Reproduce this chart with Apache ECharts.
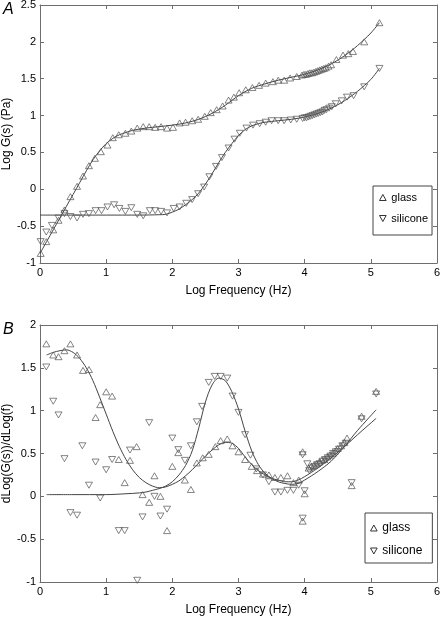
<!DOCTYPE html>
<html><head><meta charset="utf-8">
<script src="https://cdn.jsdelivr.net/npm/echarts@6/dist/echarts.min.js"></script>
<style>html,body{margin:0;padding:0;background:#fff}#c{width:442px;height:618px}</style>
</head><body><div id="c"></div>
<script>
// ---- Panel A: Log G(s) vs Log Frequency ----
const glassG = [[0.01,-0.87],[0.095,-0.71],[0.20,-0.55],[0.28,-0.42],[0.37,-0.28],[0.46,-0.10],[0.56,0.04],[0.65,0.18],[0.74,0.32],[0.83,0.42],[0.92,0.51],[1.02,0.60],[1.10,0.70],[1.19,0.74],[1.29,0.76],[1.38,0.79],[1.47,0.83],[1.56,0.85],[1.65,0.85],[1.74,0.84],[1.83,0.85],[1.92,0.83],[2.01,0.84],[2.11,0.90],[2.20,0.91],[2.30,0.93],[2.39,0.95],[2.49,0.99],[2.58,1.04],[2.67,1.08],[2.76,1.13],[2.85,1.21],[2.93,1.25],[3.01,1.31],[3.11,1.35],[3.21,1.38],[3.31,1.41],[3.41,1.44],[3.52,1.46],[3.60,1.48],[3.69,1.48],[3.78,1.51],[3.88,1.53],[3.96,1.55],[3.99,1.56],[4.02,1.56],[4.05,1.57],[4.08,1.58],[4.11,1.58],[4.14,1.59],[4.17,1.60],[4.20,1.61],[4.23,1.62],[4.26,1.63],[4.29,1.64],[4.32,1.65],[4.36,1.67],[4.40,1.69],[4.48,1.76],[4.58,1.82],[4.66,1.84],[4.73,1.87],[4.90,2.00],[5.13,2.26]];
const siliconeG = [[0.01,-0.71],[0.095,-0.58],[0.18,-0.49],[0.28,-0.39],[0.37,-0.33],[0.46,-0.37],[0.56,-0.39],[0.65,-0.34],[0.74,-0.33],[0.84,-0.29],[0.93,-0.29],[1.02,-0.24],[1.12,-0.21],[1.20,-0.26],[1.29,-0.30],[1.38,-0.25],[1.47,-0.34],[1.56,-0.36],[1.66,-0.29],[1.74,-0.29],[1.83,-0.30],[1.92,-0.32],[2.02,-0.26],[2.11,-0.24],[2.21,-0.19],[2.30,-0.14],[2.39,-0.06],[2.48,0.03],[2.56,0.17],[2.66,0.31],[2.75,0.43],[2.85,0.56],[2.94,0.68],[3.02,0.76],[3.12,0.83],[3.22,0.87],[3.32,0.89],[3.41,0.91],[3.50,0.93],[3.60,0.93],[3.69,0.93],[3.79,0.94],[3.88,0.95],[3.97,0.96],[4.00,0.97],[4.03,0.97],[4.06,0.98],[4.09,0.99],[4.12,1.00],[4.15,1.01],[4.18,1.02],[4.21,1.03],[4.24,1.04],[4.27,1.05],[4.30,1.07],[4.33,1.08],[4.37,1.10],[4.41,1.12],[4.47,1.16],[4.56,1.20],[4.64,1.25],[4.74,1.27],[4.90,1.39],[5.13,1.64]];
const glassGFit = [[0,-0.87],[0.1,-0.71],[0.2,-0.55],[0.3,-0.39],[0.4,-0.23],[0.5,-0.07],[0.6,0.09],[0.7,0.25],[0.8,0.40],[0.9,0.52],[1.0,0.62],[1.1,0.69],[1.2,0.74],[1.3,0.77],[1.4,0.80],[1.6,0.83],[1.8,0.85],[2.0,0.87],[2.2,0.90],[2.4,0.95],[2.6,1.03],[2.8,1.14],[3.0,1.27],[3.2,1.37],[3.4,1.43],[3.6,1.48],[3.8,1.52],[4.0,1.56],[4.2,1.62],[4.4,1.70],[4.6,1.81],[4.8,1.95],[5.0,2.12],[5.13,2.26]];
const siliconeGFit = [[0,-0.35],[0.5,-0.35],[1.0,-0.35],[1.5,-0.35],[1.8,-0.345],[1.9,-0.34],[2.0,-0.31],[2.1,-0.27],[2.2,-0.21],[2.3,-0.14],[2.4,-0.05],[2.5,0.07],[2.6,0.21],[2.7,0.36],[2.8,0.50],[2.9,0.62],[3.0,0.73],[3.1,0.81],[3.2,0.86],[3.3,0.89],[3.4,0.91],[3.6,0.93],[3.8,0.95],[4.0,0.98],[4.2,1.03],[4.4,1.10],[4.6,1.20],[4.8,1.33],[5.0,1.49],[5.13,1.64]];

// ---- Panel B: dLog(G(s))/dLog(f) ----
const glassD = [[0.095,1.78],[0.20,1.65],[0.28,1.63],[0.37,1.70],[0.46,1.78],[0.56,1.65],[0.65,1.47],[0.74,1.48],[0.84,0.92],[0.91,1.07],[1.00,1.22],[1.09,1.17],[1.19,0.43],[1.28,0.16],[1.36,0.42],[1.46,0.58],[1.55,0.02],[1.65,-0.07],[1.73,0.24],[1.82,0.00],[1.92,-0.40],[2.00,0.35],[2.09,0.51],[2.19,0.19],[2.28,0.08],[2.37,0.39],[2.46,0.45],[2.55,0.49],[2.65,0.58],[2.73,0.65],[2.83,0.67],[2.91,0.59],[3.00,0.52],[3.10,0.43],[3.20,0.35],[3.28,0.30],[3.37,0.26],[3.46,0.25],[3.55,0.22],[3.64,0.22],[3.74,0.24],[3.83,0.16],[3.91,0.19],[3.97,0.52],[3.97,-0.29],[4.00,0.03],[4.06,0.33],[4.10,0.35],[4.14,0.36],[4.18,0.38],[4.22,0.40],[4.26,0.42],[4.30,0.43],[4.34,0.46],[4.38,0.48],[4.42,0.50],[4.46,0.53],[4.50,0.56],[4.55,0.59],[4.60,0.63],[4.64,0.68],[4.71,0.125],[4.86,0.935],[5.08,1.225]];
const siliconeD = [[0.095,1.51],[0.20,1.11],[0.28,0.95],[0.37,0.44],[0.46,-0.19],[0.56,-0.22],[0.64,0.59],[0.74,0.13],[0.84,0.40],[0.91,-0.02],[1.00,0.31],[1.09,0.43],[1.19,-0.40],[1.28,-0.40],[1.36,0.54],[1.47,-0.98],[1.55,-0.24],[1.65,0.86],[1.73,0.00],[1.82,-0.23],[1.92,-0.15],[2.00,0.68],[2.09,0.545],[2.19,0.42],[2.28,0.59],[2.37,0.87],[2.45,1.05],[2.55,1.33],[2.64,1.40],[2.73,1.40],[2.83,1.38],[2.91,1.17],[3.00,0.98],[3.10,0.72],[3.18,0.48],[3.27,0.32],[3.37,0.25],[3.46,0.17],[3.55,0.05],[3.64,0.05],[3.74,0.07],[3.83,0.07],[3.91,0.13],[3.97,0.485],[3.97,-0.255],[4.00,0.065],[4.04,0.38],[4.07,0.30],[4.11,0.33],[4.15,0.35],[4.19,0.37],[4.23,0.38],[4.27,0.41],[4.31,0.43],[4.35,0.45],[4.39,0.47],[4.43,0.50],[4.47,0.52],[4.52,0.55],[4.57,0.59],[4.62,0.62],[4.71,0.16],[4.86,0.905],[5.08,1.195]];
const glassDFit = [[0.1,1.65],[0.2,1.68],[0.3,1.70],[0.4,1.71],[0.5,1.68],[0.6,1.61],[0.7,1.50],[0.8,1.35],[0.9,1.16],[1.0,0.96],[1.1,0.76],[1.2,0.58],[1.3,0.43],[1.4,0.31],[1.5,0.22],[1.6,0.16],[1.7,0.12],[1.8,0.10],[1.9,0.11],[2.0,0.14],[2.1,0.18],[2.2,0.24],[2.3,0.31],[2.4,0.39],[2.5,0.47],[2.6,0.54],[2.7,0.60],[2.8,0.63],[2.9,0.62],[3.0,0.56],[3.1,0.46],[3.2,0.37],[3.3,0.30],[3.4,0.25],[3.5,0.21],[3.6,0.19],[3.7,0.17],[3.8,0.17],[3.9,0.19],[4.0,0.23],[4.2,0.33],[4.4,0.45],[4.6,0.58],[4.8,0.72],[5.08,0.91]];
const siliconeDFit = [[0.1,0.02],[0.5,0.02],[1.0,0.02],[1.3,0.03],[1.5,0.04],[1.6,0.05],[1.7,0.07],[1.8,0.09],[1.9,0.12],[2.0,0.17],[2.1,0.25],[2.2,0.36],[2.3,0.53],[2.4,0.80],[2.5,1.10],[2.6,1.30],[2.7,1.38],[2.8,1.35],[2.9,1.22],[3.0,1.02],[3.1,0.76],[3.2,0.53],[3.3,0.37],[3.4,0.27],[3.5,0.21],[3.6,0.17],[3.7,0.15],[3.8,0.14],[3.9,0.15],[4.0,0.19],[4.2,0.29],[4.4,0.41],[4.6,0.58],[4.8,0.77],[5.08,1.01]];

const seriesNames = ['glass', 'silicone'];
const xRange = [0, 6];
const yRangeA = [-1, 2.5];
const yRangeB = [-1, 2];

const FONT = "'Liberation Sans', Arial, Helvetica, sans-serif";
const AX = '#6e6e6e';
const MK = '#555';
const LN = '#444';
const UP = 'path://M5,0 L10,9 L0,9 Z';
const DN = 'path://M0,0 L10,0 L5,9 Z';

function xAx(grid, pos, withName) {
  return {
    type: 'value', gridIndex: grid, position: pos, min: xRange[0], max: xRange[1], interval: 1,
    axisLine: {show: true, onZero: false, lineStyle: {color: AX, width: 1}},
    axisTick: {show: true, inside: true, length: 4, lineStyle: {color: AX}},
    axisLabel: {show: pos === 'bottom', color: '#000', fontFamily: FONT, fontSize: 11, margin: 4},
    splitLine: {show: false},
    name: withName ? 'Log Frequency (Hz)' : '', nameLocation: 'middle', nameGap: 22, nameMoveOverlap: false,
    nameTextStyle: {color: '#000', fontFamily: FONT, fontSize: 12}
  };
}
function yAx(grid, pos, range, name) {
  return {
    type: 'value', gridIndex: grid, position: pos, min: range[0], max: range[1], interval: 0.5,
    axisLine: {show: true, onZero: false, lineStyle: {color: AX, width: 1}},
    axisTick: {show: true, inside: true, length: 4, lineStyle: {color: AX}},
    axisLabel: {show: pos === 'left', color: '#000', fontFamily: FONT, fontSize: 11, margin: 4},
    splitLine: {show: false},
    name: name || '', nameLocation: 'middle', nameGap: 27, nameMoveOverlap: false,
    nameTextStyle: {color: '#000', fontFamily: FONT, fontSize: 12}
  };
}
function scat(name, data, xi, yi, sym) {
  return {
    type: 'scatter', name: name, data: data, xAxisIndex: xi, yAxisIndex: yi,
    symbol: sym, symbolSize: [7, 6], z: 3,
    itemStyle: {color: 'rgba(0,0,0,0)', borderColor: MK, borderWidth: 0.9},
    emphasis: {disabled: true}
  };
}
function fit(name, data, xi, yi) {
  return {
    type: 'line', name: name, data: data, xAxisIndex: xi, yAxisIndex: yi,
    showSymbol: false, symbol: 'none', smooth: 0.3, z: 2,
    lineStyle: {color: LN, width: 1}, silent: true
  };
}
function legend(left, top, pad, gap, fs) {
  return {
    left: left, top: top, orient: 'vertical', padding: pad, itemGap: gap,
    itemWidth: 7, itemHeight: 6, borderColor: '#444', borderWidth: 1, backgroundColor: '#fff',
    selectedMode: false,
    textStyle: {color: '#000', fontFamily: FONT, fontSize: fs},
    data: [
      {name: seriesNames[0], icon: UP, itemStyle: {color: 'rgba(0,0,0,0)', borderColor: '#333', borderWidth: 1}},
      {name: seriesNames[1], icon: DN, itemStyle: {color: 'rgba(0,0,0,0)', borderColor: '#333', borderWidth: 1}}
    ]
  };
}

const chart = echarts.init(document.getElementById('c'), null, {renderer: 'canvas'});
chart.setOption({
  animation: false,
  backgroundColor: '#fff',
  grid: [
    {left: 40, top: 5, width: 397, height: 258, containLabel: false, outerBoundsMode: 'none'},
    {left: 40, top: 325, width: 397, height: 257, containLabel: false, outerBoundsMode: 'none'}
  ],
  xAxis: [xAx(0, 'bottom', true), xAx(0, 'top', false), xAx(1, 'bottom', true), xAx(1, 'top', false)],
  yAxis: [yAx(0, 'left', yRangeA, 'Log G(s) (Pa)'), yAx(0, 'right', yRangeA), yAx(1, 'left', yRangeB, 'dLog(G(s))/dLog(f)'), yAx(1, 'right', yRangeB)],
  legend: [legend(373, 186, [6, 4, 11, 6], 10, 11), legend(365, 513, [9, 10, 6, 5], 11, 12)],
  series: [
    fit('glass', glassGFit, 0, 0),
    fit('silicone', siliconeGFit, 0, 0),
    scat('glass', glassG, 0, 0, UP),
    scat('silicone', siliconeG, 0, 0, DN),
    fit('glass', glassDFit, 2, 2),
    fit('silicone', siliconeDFit, 2, 2),
    scat('glass', glassD, 2, 2, UP),
    scat('silicone', siliconeD, 2, 2, DN)
  ],
  graphic: [
    {type: 'text', left: 3, top: 2, style: {text: 'A', font: 'italic 16px ' + FONT, fill: '#000'}},
    {type: 'text', left: 3, top: 322, style: {text: 'B', font: 'italic 16px ' + FONT, fill: '#000'}}
  ]
});
</script></body></html>
